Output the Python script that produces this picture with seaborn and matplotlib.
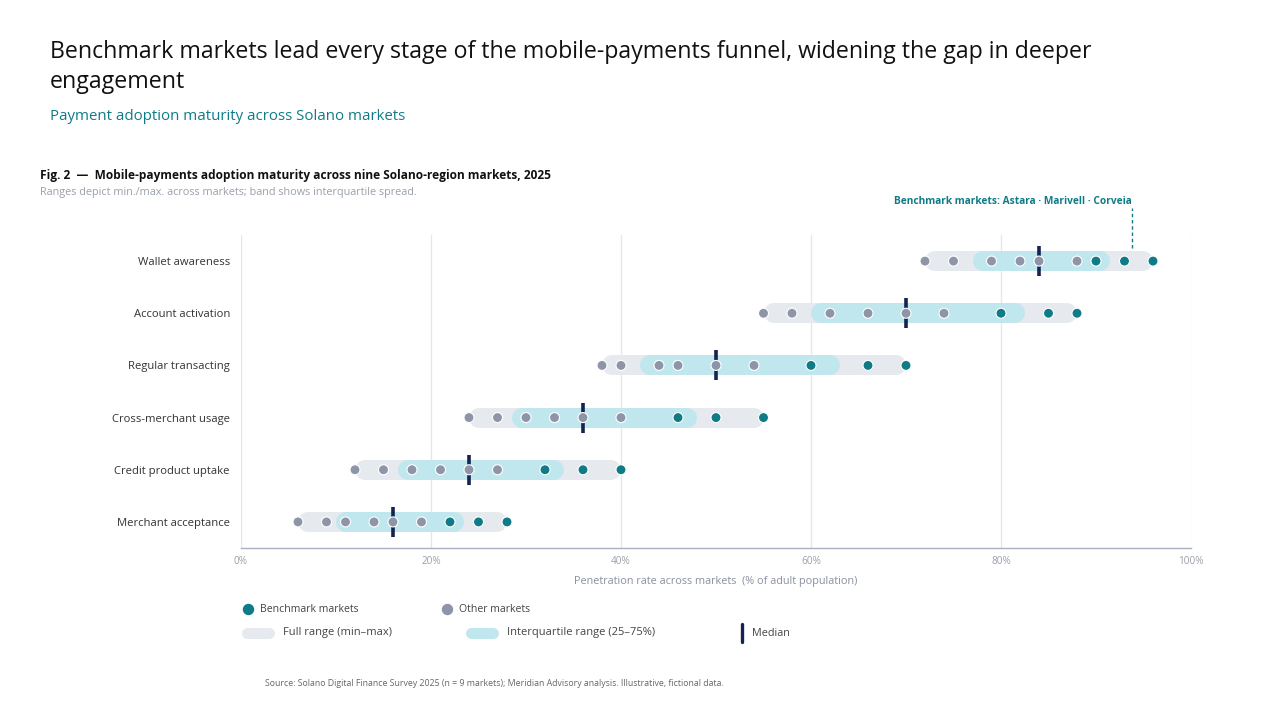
import numpy as np
import pandas as pd
import matplotlib
matplotlib.use("Agg")
import matplotlib.pyplot as plt
from matplotlib.lines import Line2D
import seaborn as sns

# ---------------- data ----------------
stages = ["Wallet awareness", "Account activation", "Regular transacting",
          "Cross-merchant usage", "Credit product uptake", "Merchant acceptance"]
# six "other" markets per stage
other_vals = [
    [72, 75, 79, 82, 84, 88],
    [55, 58, 62, 66, 70, 74],
    [38, 40, 44, 46, 50, 54],
    [24, 27, 30, 33, 36, 40],
    [12, 15, 18, 21, 24, 27],
    [6, 9, 11, 14, 16, 19],
]
# three benchmark markets per stage (Astara, Marivell, Corveia)
bench_vals = [
    [90, 93, 96],
    [80, 85, 88],
    [60, 66, 70],
    [46, 50, 55],
    [32, 36, 40],
    [22, 25, 28],
]
xticks = [0, 20, 40, 60, 80, 100]
xtick_labels = ["0%", "20%", "40%", "60%", "80%", "100%"]

rows = []
for i, s in enumerate(stages):
    for v in other_vals[i]:
        rows.append((s, i, v, "Other markets"))
    for v in bench_vals[i]:
        rows.append((s, i, v, "Benchmark markets"))
df = pd.DataFrame(rows, columns=["stage", "idx", "value", "group"])

# ---------------- style ----------------
TEAL = "#0f7b87"
GREYDOT = "#8f95a8"
BAND_FULL = "#e6e9ee"
BAND_IQR = "#c0e7ed"
NAVY = "#14234f"
FONT = ["Open Sans", "DejaVu Sans"]

sns.set_theme(style="white")
plt.rcParams["font.family"] = FONT

W, H = 1280, 720
fig = plt.figure(figsize=(12.8, 7.2), dpi=100)
ax_l, ax_r, ax_t, ax_b = 241, 1191, 235, 548
ax = fig.add_axes([ax_l / W, 1 - ax_b / H, (ax_r - ax_l) / W, (ax_b - ax_t) / H])
ax.set_xlim(0, 100)
ax.set_ylim(len(stages) - 0.5, -0.5)

px_per_unit = (ax_r - ax_l) / 100.0
band_px = 20
r_units = (band_px / 2) / px_per_unit
band_lw = band_px * 0.72

# grid
for t in xticks:
    ax.axvline(t, color="#e6e6e6", lw=0.9, zorder=0)

for i, s in enumerate(stages):
    vals = np.sort(np.array(other_vals[i] + bench_vals[i], dtype=float))
    lo, hi = vals.min(), vals.max()
    med = np.median(vals)
    n = len(vals)
    lower = vals[: n // 2]
    upper = vals[(n + 1) // 2:]
    q1, q3 = np.median(lower), np.median(upper)
    ax.plot([lo + r_units, hi - r_units], [i, i], color=BAND_FULL, lw=band_lw,
            solid_capstyle="round", zorder=1)
    ax.plot([q1 + r_units, q3 - r_units], [i, i], color=BAND_IQR, lw=band_lw,
            solid_capstyle="round", zorder=2)
    ax.plot([med], [i], marker="|", markersize=30 * 0.72, markeredgewidth=2.6,
            color=NAVY, zorder=3, linestyle="none")

sns.scatterplot(data=df, x="value", y="idx", hue="group",
                palette={"Other markets": GREYDOT, "Benchmark markets": TEAL},
                s=52, edgecolor="white", linewidth=0.8, zorder=4, legend=False, ax=ax)

ax.set_yticks(range(len(stages)))
ax.set_yticklabels(stages, fontsize=8.1, color="#333333")
ax.set_xticks(xticks)
ax.set_xticklabels(xtick_labels, fontsize=7.2, color="#9aa0ab")
ax.tick_params(axis="both", length=0, pad=6)
ax.tick_params(axis="y", pad=8)
ax.set_xlabel("Penetration rate across markets  (% of adult population)",
              fontsize=7.8, color="#8a90a0", labelpad=6)
ax.set_ylabel("")
for sp in ["top", "right", "left"]:
    ax.spines[sp].set_visible(False)
ax.spines["bottom"].set_color("#aab2c2")
ax.spines["bottom"].set_linewidth(1.0)
ax.set_facecolor("none")

# benchmark annotation
ann_x = 93.8
ax.plot([ann_x, ann_x], [-0.26, -1.02], color=TEAL, lw=1, ls=(0, (2.5, 2)),
        zorder=5, clip_on=False)
fig.text((ax_l + ann_x * px_per_unit) / W, 1 - 202 / H,
         "Benchmark markets: Astara · Marivell · Corveia", ha="right", va="center",
         fontsize=7.3, color=TEAL, fontweight="bold")

# ---------------- titles ----------------
fig.text(50 / W, 1 - 52 / H, "Benchmark markets lead every stage of the mobile-payments funnel, widening the gap in deeper",
         fontsize=16.7, color="#111111", va="center", ha="left")
fig.text(50 / W, 1 - 82 / H, "engagement", fontsize=16.7, color="#111111", va="center", ha="left")
fig.text(50 / W, 1 - 116 / H, "Payment adoption maturity across Solano markets",
         fontsize=10.85, color=TEAL, va="center", ha="left")
fig.text(40 / W, 1 - 176 / H, "Fig. 2  —  Mobile-payments adoption maturity across nine Solano-region markets, 2025",
         fontsize=8.55, color="#111111", fontweight="bold", va="center", ha="left")
fig.text(40 / W, 1 - 193 / H, "Ranges depict min./max. across markets; band shows interquartile spread.",
         fontsize=7.85, color="#9aa0ab", va="center", ha="left")

# ---------------- legend ----------------
def fx(x):
    return x / W

def fy(y):
    return 1 - y / H

leg_col = "#444444"
fig.add_artist(Line2D([fx(248)], [fy(609)], marker="o", markersize=7.2,
                      color=TEAL, markeredgecolor=TEAL, transform=fig.transFigure))
fig.text(fx(260), fy(609), "Benchmark markets", fontsize=7.6, color=leg_col, va="center")
fig.add_artist(Line2D([fx(447)], [fy(609)], marker="o", markersize=7.2,
                      color=GREYDOT, markeredgecolor=GREYDOT, transform=fig.transFigure))
fig.text(fx(459), fy(609), "Other markets", fontsize=7.6, color=leg_col, va="center")

for x0, col, label in [(242, BAND_FULL, "Full range (min–max)"),
                       (466, BAND_IQR, "Interquartile range (25–75%)")]:
    fig.add_artist(Line2D([fx(x0 + 5), fx(x0 + 27)], [fy(633), fy(633)], color=col,
                          lw=11 * 0.72, solid_capstyle="round", transform=fig.transFigure))
    fig.text(fx(x0 + 41), fy(633), label, fontsize=8.0, color=leg_col, va="center")

fig.add_artist(Line2D([fx(742), fx(742)], [fy(624), fy(642)], color=NAVY, lw=2.4,
                      transform=fig.transFigure))
fig.text(fx(752), fy(633), "Median", fontsize=7.8, color=leg_col, va="center")

fig.text(fx(265), fy(683),
         "Source: Solano Digital Finance Survey 2025 (n = 9 markets); Meridian Advisory analysis. Illustrative, fictional data.",
         fontsize=6.3, color="#666666", va="center")

fig.savefig("out.png", dpi=100, facecolor="white")
